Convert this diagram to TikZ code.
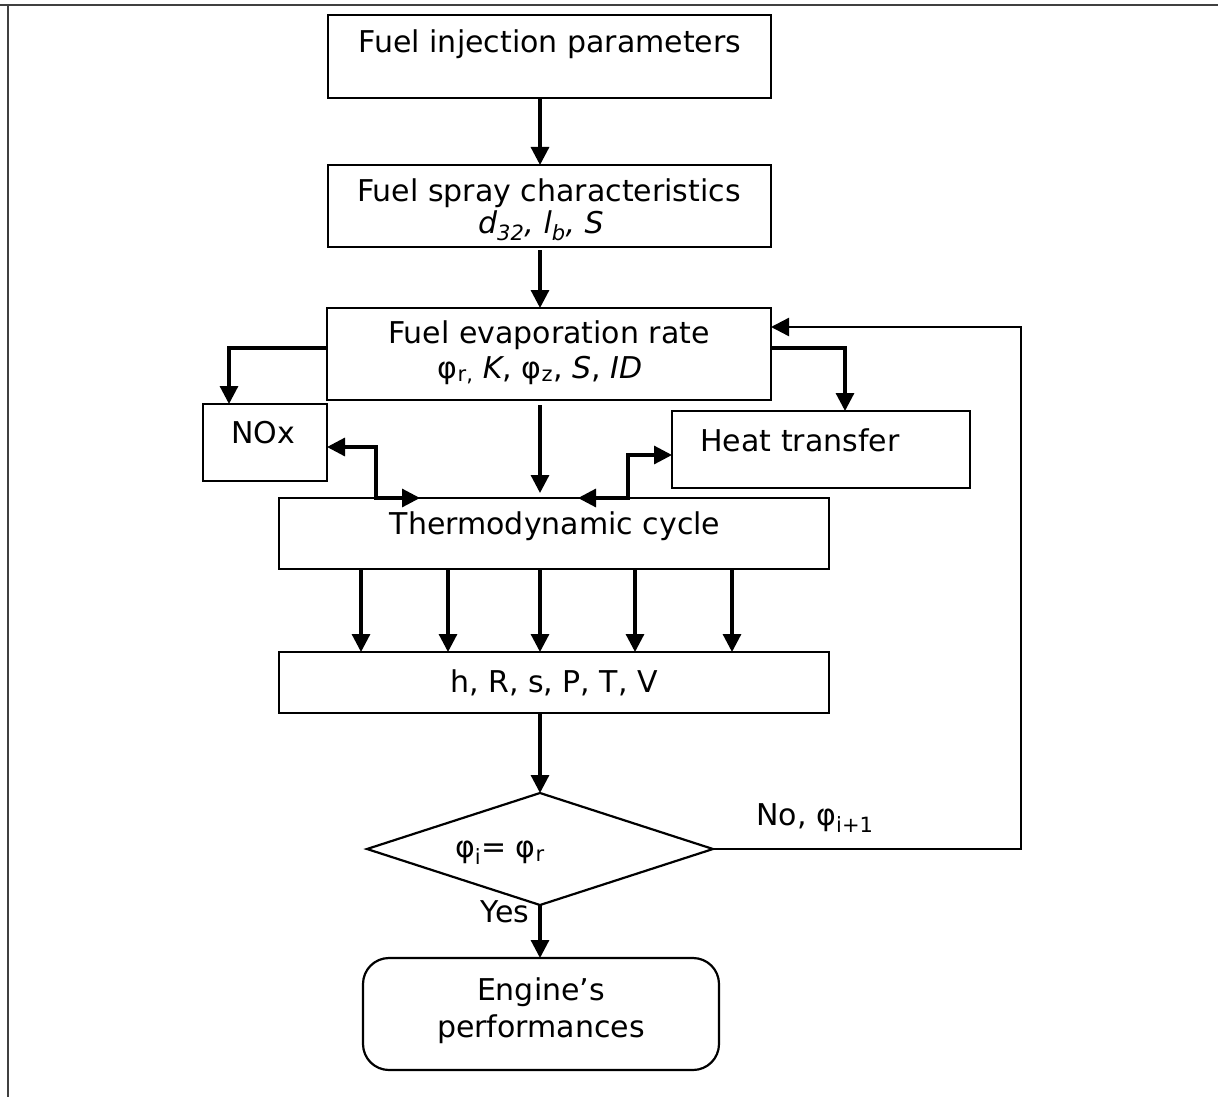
\documentclass[tikz,border=0pt]{standalone}
\usepackage{fontspec}
\setmainfont{DejaVu Sans}
\usetikzlibrary{arrows.meta,shapes.geometric,calc}
\newcommand\subt[1]{\textsubscript{#1}}
\begin{document}
\begin{tikzpicture}[x=1pt,y=-1pt,
  box/.style={draw, line width=2.2pt, inner sep=0pt, outer sep=0pt, anchor=north west},
  lbl/.style={inner sep=0pt, font=\fontsize{30}{36}\selectfont, anchor=center},
  arr/.style={line width=3.2pt, -{Triangle[length=18pt,width=18pt]}},
  both/.style={line width=3.2pt, {Triangle[length=18pt,width=18pt]}-{Triangle[length=18pt,width=18pt]}},
  fb/.style={line width=2.4pt, -{Triangle[length=18pt,width=18pt]}},
]
\useasboundingbox (0,0) rectangle (1218,1097);
\draw[line width=2pt, black!75] (0,5) -- (1218,5);
\draw[line width=2pt, black!75] (8,5) -- (8,1097);

% boxes
\node[box, minimum width=443pt, minimum height=83pt] (b1) at (328,15) {};
\node[box, minimum width=443pt, minimum height=82pt] (b2) at (328,165) {};
\node[box, minimum width=444pt, minimum height=92pt] (b3) at (327,308) {};
\node[box, minimum width=124pt, minimum height=77pt] (nox) at (203,404) {};
\node[box, minimum width=298pt, minimum height=77pt] (ht) at (672,411) {};
\node[box, minimum width=550pt, minimum height=71pt] (th) at (279,498) {};
\node[box, minimum width=550pt, minimum height=61pt] (st) at (279,652) {};
\node[draw, diamond, line width=2.2pt, inner sep=0pt, outer sep=0pt,
      minimum width=346pt, minimum height=112pt] (dia) at (540,849) {};
\node[box, rounded corners=26pt, minimum width=356pt, minimum height=112pt] (ep) at (363,958) {};

% texts
\node[lbl] (t1) at (550,44) {Fuel injection parameters};
\node[lbl] (t2a) at (549,193) {Fuel spray characteristics};
\node[lbl] (t2b) at (541,226) {\itshape d\subt{32}, l\subt{b}, S};
\node[lbl] (t3a) at (549,335) {Fuel evaporation rate};
\node[lbl] (t3b) at (540,370) {φ\subt{r,} \textit{K}, φ\subt{z}, \textit{S}, \textit{ID}};
\node[lbl] (tn) at (263,433) {NOx};
\node[lbl] (tht) at (800,440) {Heat transfer};
\node[lbl] (tt) at (555,526) {Thermodynamic cycle};
\node[lbl] (ts) at (554,683) {h, R, s, P, T, V};
\node[lbl] (td) at (500,853) {φ\subt{i}= φ\subt{r}};
\node[lbl] (tno) at (815,818) {No, φ\subt{i+1}};
\node[lbl] (tyes) at (505,912) {Yes};
\node[lbl, align=center, font=\fontsize{30}{37}\selectfont] (te) at (541,1011) {Engine’s\\performances};

% connectors
\coordinate (cx) at (540,0);
\draw[arr] (cx |- b1.south) -- (cx |- b2.north);
\draw[arr, shorten <=3pt] (cx |- b2.south) -- (cx |- b3.north);
\draw[arr] (b3.west |- 0,348) -| (nox.north -| 229,0);
\draw[arr] (b3.east |- 0,348) -| (ht.north -| 845,0);
\draw[arr, shorten <=5pt, shorten >=5pt] (cx |- b3.south) -- (cx |- th.north);
\draw[both] (nox.east |- 0,447) -| (376,0 |- th.north) -- (420,0 |- th.north);
\draw[both] (ht.west |- 0,455) -| (628,0 |- th.north) -- (578,0 |- th.north);
\foreach \x in {361,448,540,635,732}
  \draw[arr] (\x,0 |- th.south) -- (\x,0 |- st.north);
\draw[arr] (cx |- st.south) -- (dia.north);
\draw[fb] (dia.east) -| (1021,327) -- (b3.east |- 0,327);
\draw[arr] (dia.south) -- (ep.north -| dia.south);
\end{tikzpicture}
\end{document}
